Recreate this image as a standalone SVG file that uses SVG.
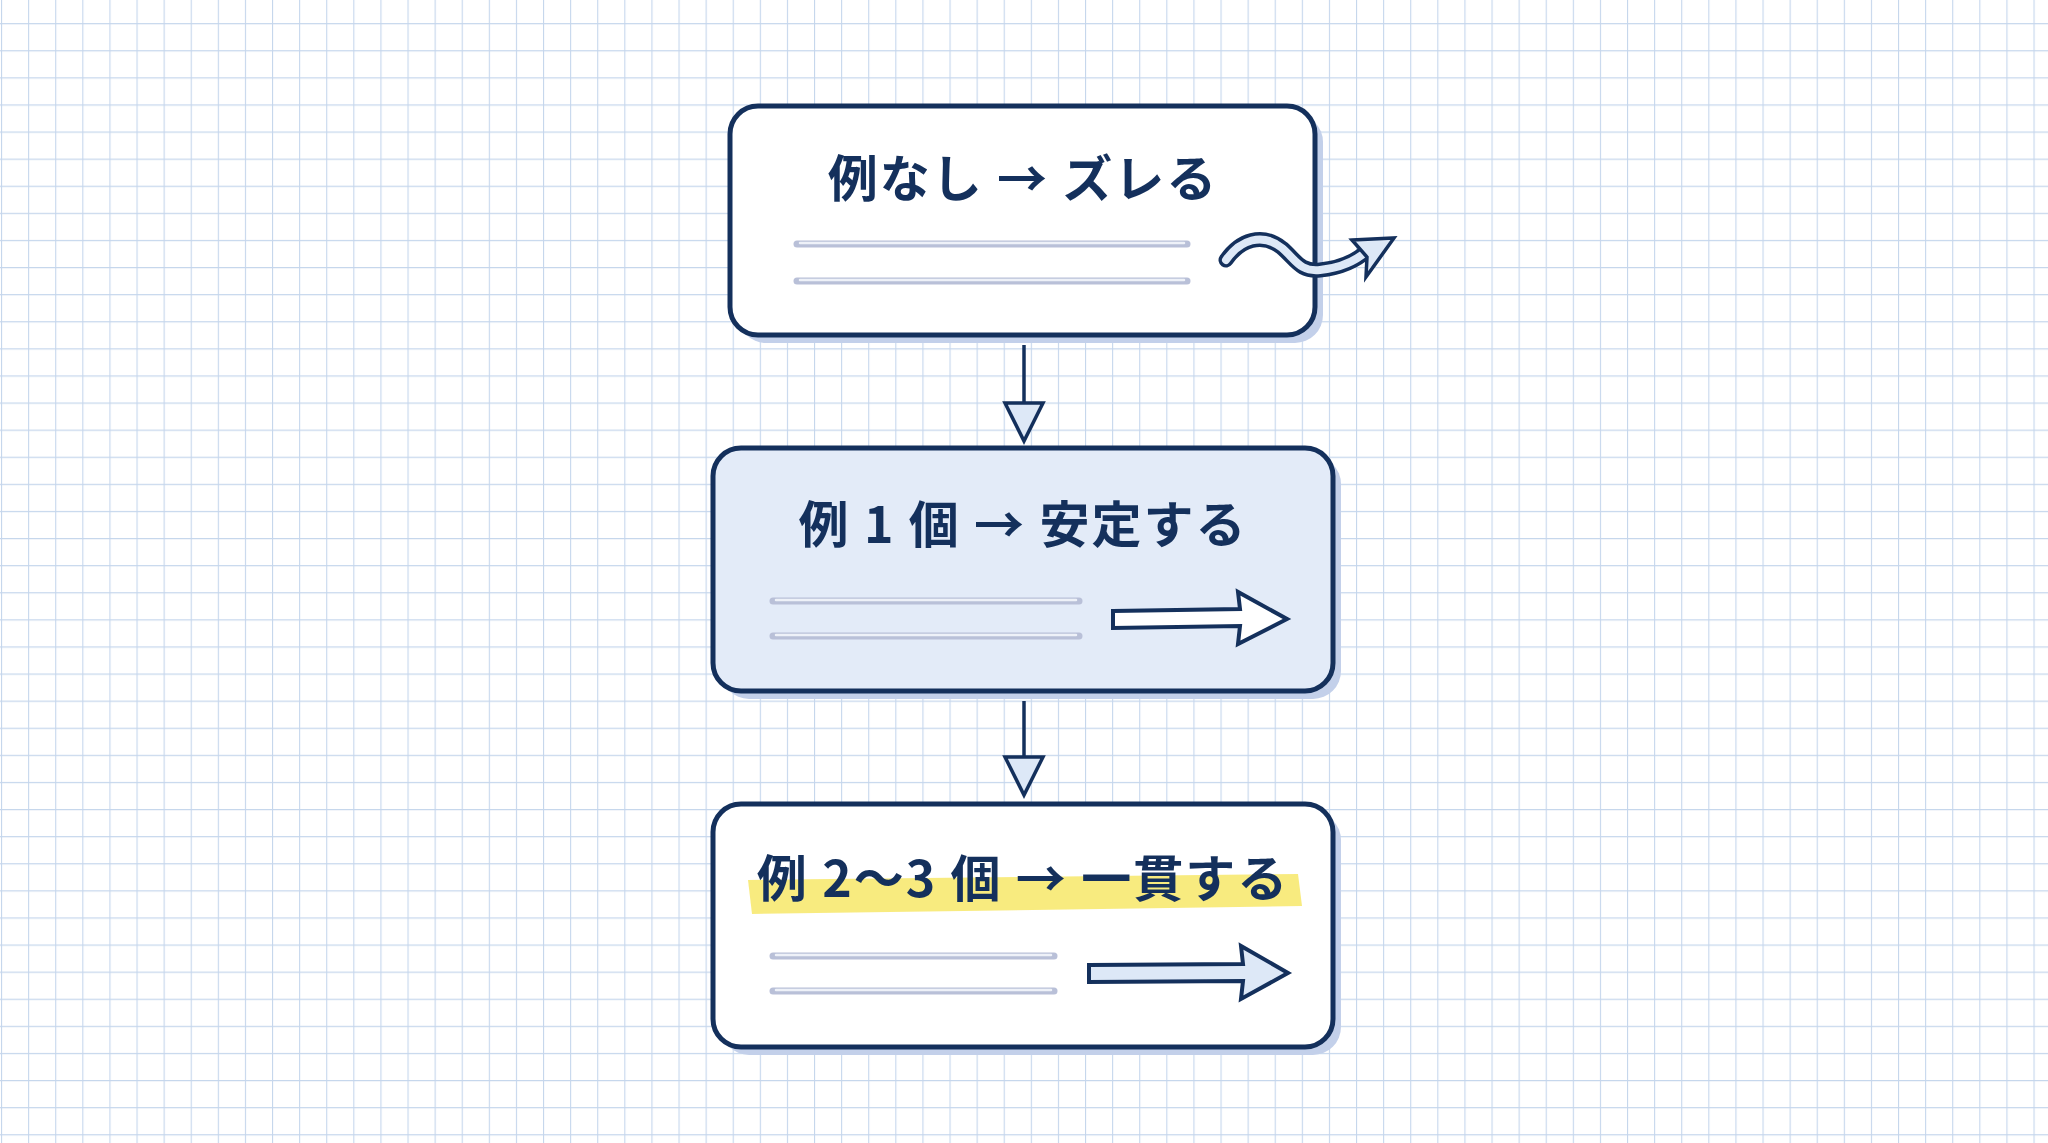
<svg xmlns="http://www.w3.org/2000/svg" width="2048" height="1143" viewBox="0 0 2048 1143">
<defs>
<pattern id="grid" x="1" y="-4" width="27.1" height="27.1" patternUnits="userSpaceOnUse">
<path d="M0 0V27.1M0 0H27.1" fill="none" stroke="#c5d6ec" stroke-width="2.2"/>
</pattern>
<style>
.box{stroke:#14305c;stroke-width:5}
.shadow{fill:#c3d0ea}
.title{font-family:"Noto Sans CJK JP","Noto Sans",sans-serif;font-weight:700;font-size:50px;fill:#14305c;text-anchor:middle;letter-spacing:2px}
.ln{stroke:#b9c0d8;stroke-width:7;stroke-linecap:round}
.ln2{stroke:#eef1f8;stroke-width:2.5;stroke-linecap:round}
.conn{stroke:#14305c;stroke-width:3.5;fill:none}
.head{fill:#dde8f7;stroke:#14305c;stroke-width:3.5;stroke-linejoin:miter}
.blk{fill:#dde8f7;stroke:#14305c;stroke-width:4;stroke-linejoin:miter}
</style>
</defs>
<rect width="2048" height="1143" fill="#ffffff"/>
<rect width="2048" height="1143" fill="url(#grid)"/>
<g id="connectors">
<line class="conn" x1="1024" y1="345" x2="1024" y2="410"/>
<polygon class="head" points="1005,403 1043,403 1024,441"/>
<line class="conn" x1="1024" y1="701" x2="1024" y2="765"/>
<polygon class="head" points="1005,757 1043,757 1024,795"/>
</g>
<g id="node1">
<rect class="shadow" x="738" y="114" width="585" height="229" rx="28"/>
<rect class="box" x="730" y="106" width="585" height="229" rx="28" fill="#ffffff"/>
<text class="title" x="1023" y="197">例なし → ズレる</text>
<line class="ln" x1="797" y1="244" x2="1187" y2="244"/><line class="ln2" x1="800" y1="243" x2="1184" y2="243"/>
<line class="ln" x1="797" y1="281" x2="1187" y2="281"/><line class="ln2" x1="800" y1="280" x2="1184" y2="280"/>
<path d="M1226 260 C1240 240 1262 232 1282 248 C1296 260 1300 272 1320 270 C1340 268 1355 262 1368 250" fill="none" stroke="#14305c" stroke-width="15" stroke-linecap="round"/>
<path d="M1226 260 C1240 240 1262 232 1282 248 C1296 260 1300 272 1320 270 C1340 268 1355 262 1368 250" fill="none" stroke="#dde8f7" stroke-width="8" stroke-linecap="round"/>
<polygon class="head" points="1352,240 1394,238 1366,277 1367,257"/>
</g>
<g id="node2">
<rect class="shadow" x="721" y="456" width="620" height="243" rx="28"/>
<rect class="box" x="713" y="448" width="620" height="243" rx="28" fill="#e3ebf8"/>
<text class="title" x="1023" y="543">例 1 個 → 安定する</text>
<line class="ln" x1="773" y1="601" x2="1079" y2="601"/><line class="ln2" x1="776" y1="600" x2="1076" y2="600"/>
<line class="ln" x1="773" y1="636" x2="1079" y2="636"/><line class="ln2" x1="776" y1="635" x2="1076" y2="635"/>
<polygon class="blk" style="fill:#ffffff" points="1113,611 1240,609 1238,592 1287,619 1238,644 1240,626 1113,628"/>
</g>
<g id="node3">
<rect class="shadow" x="721" y="812" width="620" height="243" rx="28"/>
<rect class="box" x="713" y="804" width="620" height="243" rx="28" fill="#ffffff"/>
<path d="M748 880 L1298 874 L1302 906 L752 914 Z" fill="#f7e868" opacity="0.85"/>
<text class="title" x="1023" y="897">例 2〜3 個 → 一貫する</text>
<line class="ln" x1="773" y1="956" x2="1054" y2="956"/><line class="ln2" x1="776" y1="955" x2="1051" y2="955"/>
<line class="ln" x1="773" y1="991" x2="1054" y2="991"/><line class="ln2" x1="776" y1="990" x2="1051" y2="990"/>
<polygon class="blk" points="1089,965 1243,964 1241,946 1288,973 1241,999 1243,981 1089,982"/>
</g>
</svg>
